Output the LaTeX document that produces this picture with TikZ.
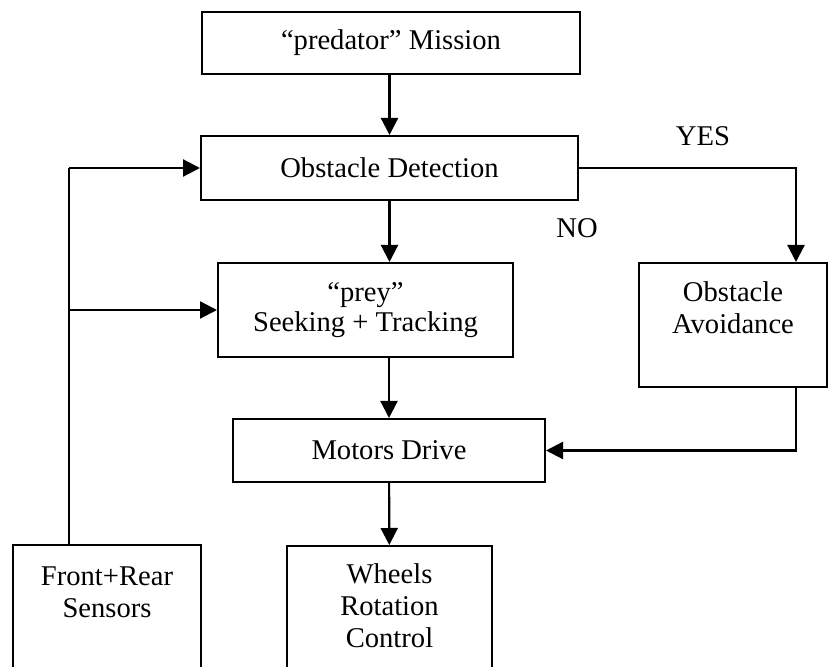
\documentclass[tikz,border=0pt]{standalone}
\usepackage{fontspec}
\setmainfont{Liberation Serif}
\usetikzlibrary{positioning, arrows.meta}

\begin{document}
\begin{tikzpicture}[
    x=0.5pt, y=-0.5pt,
    every node/.style={font=\fontsize{14.3}{16}\selectfont},
    block/.style={rectangle, draw, line width=1pt, inner sep=0pt, align=center},
    caption/.style={inner sep=0pt, align=center},
    flow/.style={-{Triangle[length=8.5pt, width=8.5pt]}, line width=1.1pt},
    link/.style={line width=1.1pt}
]
\useasboundingbox (0,0) rectangle (829,667);
\clip (0,0) rectangle (829,667);

% main column
\node[block, minimum width=189pt, minimum height=31pt] (mission) at (391,43) {“predator” Mission};
\node[block, minimum width=188.5pt, minimum height=32pt] (detect) at (389.5,168) {Obstacle Detection};
\node[block, minimum width=147.5pt, minimum height=47pt] (prey) at (365.5,310) {“prey”\\[-1pt]Seeking + Tracking};
\node[block, minimum width=156pt, minimum height=31.5pt] (motors) at (389,450.5) {Motors Drive};

% side and bottom boxes
\node[block, minimum width=94pt, minimum height=62pt] (avoid) at (733,325) {};
\node[caption, below=9.75pt of avoid.north] (avoid_text) {Obstacle\\Avoidance};
\node[block, minimum width=94pt, minimum height=67.5pt] (sensors) at (107,612.5) {};
\node[caption, below=11pt of sensors.north] (sensors_text) {Front+Rear\\Sensors};
\node[block, minimum width=102.5pt, minimum height=67pt] (wheels) at (389.5,613) {};
\node[caption, below=9pt of wheels.north] (wheels_text) {Wheels\\Rotation\\Control};

% branch labels
\node (yes) at (703,136) {YES};
\node (no) at (577,228) {NO};

% main flow edges
\draw[flow] (detect.north |- mission.south) -- (detect.north);
\draw[flow] (detect.south) -- (detect.south |- prey.north);
\draw[flow] (motors.north |- prey.south) -- (motors.north);
\draw[flow] (motors) -- (wheels);

% avoidance branch
\coordinate (avoid_in) at ([xshift=31.5pt]avoid.north);
\draw[flow] (detect.east) -| (avoid_in);
\draw[flow] (avoid_in |- avoid.south) |- (motors.east);

% sensor feedback
\coordinate (sens_out) at ([xshift=-19pt]sensors.north);
\coordinate (sens_top) at (sens_out |- detect.west);
\draw[link] (sens_out) -- (sens_top);
\draw[flow] (sens_top) -- (detect.west);
\draw[flow] (sens_out |- prey.west) -- (prey.west);

\end{tikzpicture}
\end{document}
